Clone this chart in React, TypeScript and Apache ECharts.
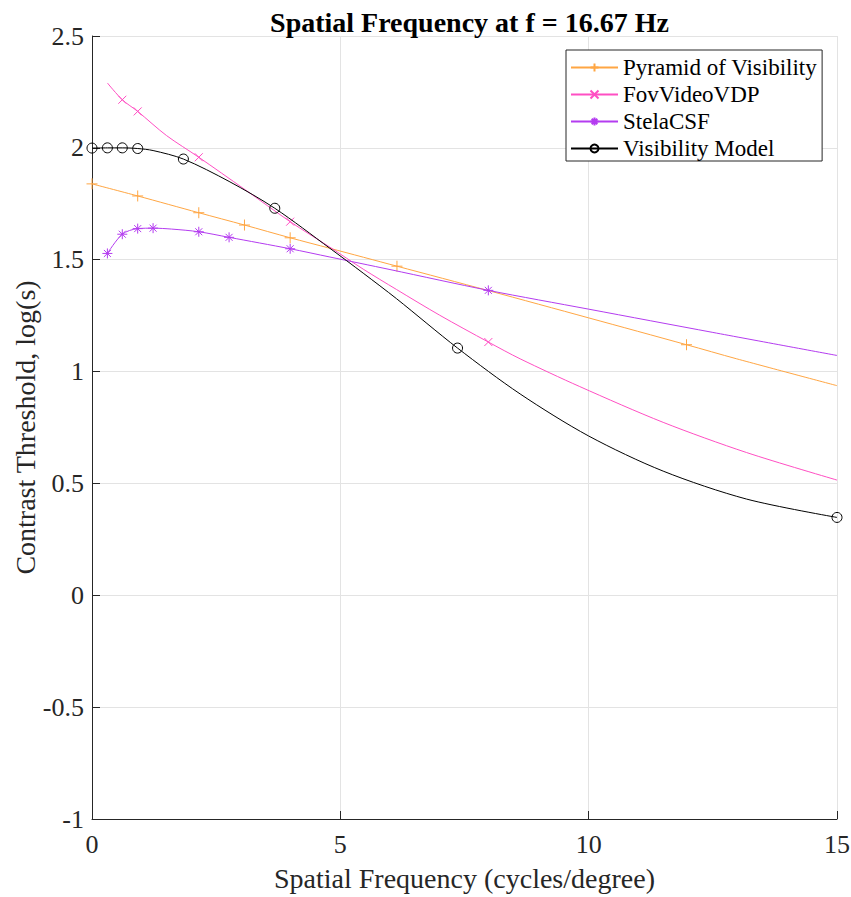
import React, { useEffect, useRef } from "react";
import * as echarts from "echarts";

const titleText = "Spatial Frequency at f = 16.67 Hz";
const xName = "Spatial Frequency (cycles/degree)";
const yName = "Contrast Threshold, log(s)";
const seriesNames = ["Pyramid of Visibility", "FovVideoVDP", "StelaCSF", "Visibility Model"];

const pyramidX = [0, 0.92, 2.15, 3.07, 3.99, 4.79, 6.14, 7.98, 10, 11.97, 12.98, 15];
const pyramidY = [1.839, 1.785, 1.71, 1.655, 1.598, 1.551, 1.471, 1.362, 1.24, 1.12, 1.057, 0.937];
const pyramidMarks = [0, 0.92, 2.15, 3.07, 3.99, 6.14, 11.97];

const fovX = [0.31, 0.61, 0.92, 1.5, 2.15, 3.07, 3.99, 4.79, 5.46, 6.13, 7.0, 7.98, 8.62, 9.82, 11.5, 13.18, 15];
const fovY = [2.29, 2.215, 2.163, 2.055, 1.958, 1.815, 1.67, 1.556, 1.458, 1.367, 1.252, 1.132, 1.057, 0.933, 0.773, 0.638, 0.515];
const fovMarks = [0.61, 0.92, 2.15, 3.99, 7.98];

const stelaX = [0.31, 0.61, 0.92, 1.23, 1.6, 2.15, 2.76, 3.99, 4.79, 6.0, 7.98, 10, 12.5, 15];
const stelaY = [1.528, 1.614, 1.639, 1.641, 1.637, 1.625, 1.6, 1.549, 1.512, 1.456, 1.363, 1.279, 1.175, 1.072];
const stelaMarks = [0.31, 0.61, 0.92, 1.23, 2.15, 2.76, 3.99, 7.98];

const visX = [0, 0.31, 0.61, 0.92, 1.23, 1.84, 2.76, 3.68, 4.79, 5.46, 6.13, 7.36, 8.62, 10, 11.5, 13.18, 15];
const visY = [1.999, 2.0, 2.0, 1.997, 1.988, 1.95, 1.85, 1.73, 1.551, 1.44, 1.326, 1.105, 0.9, 0.712, 0.555, 0.43, 0.348];
const visMarks = [0, 0.31, 0.61, 0.92, 1.84, 3.68, 7.36, 15];

const colors = ["#ffa643", "#ff4fc3", "#b43cf0", "#000000"];
const FONT = "Liberation Serif";

function build(xs: number[], ys: number[], marks: number[]) {
  return xs.map((x, i) =>
    marks.indexOf(x) >= 0 ? { value: [x, ys[i]] } : { value: [x, ys[i]], symbol: "none" }
  );
}

const PLUS = "path://M5 0 L5 10 M0 5 L10 5";
const CROSS = "path://M0 0 L10 10 M10 0 L0 10";
const STAR = "path://M5 0 L5 10 M0 5 L10 5 M1.5 1.5 L8.5 8.5 M8.5 1.5 L1.5 8.5";

export default function App() {
  const ref = useRef<HTMLDivElement>(null);
  useEffect(() => {
    if (!ref.current) return;
    const chart = echarts.init(ref.current, undefined, { renderer: "svg" });
    const mk = (i: number, data: any[], symbol: string, size: number, fill: string) => ({
      name: seriesNames[i],
      type: "line",
      data,
      smooth: 0.3,
      showSymbol: true,
      showAllSymbol: true,
      symbol,
      symbolSize: size,
      lineStyle: { color: colors[i], width: 1 },
      itemStyle: { color: fill, borderColor: colors[i], borderWidth: 1 },
      emphasis: { disabled: true },
      z: 2 + i,
    });
    chart.setOption({
      animation: false,
      backgroundColor: "#ffffff",
      title: {
        text: titleText,
        left: 464.5,
        textAlign: "center",
        top: 3,
        textStyle: { fontFamily: FONT, fontSize: 28, fontWeight: "bold", color: "#000" },
      },
      grid: {
        left: 92,
        right: 14,
        top: 36,
        bottom: 78,
        containLabel: false,
        outerBoundsMode: "none",
      },
      legend: {
        orient: "vertical",
        left: 566,
        top: 50,
        padding: [6, 5, 1, 4],
        itemGap: 4,
        itemWidth: 47,
        itemHeight: 10,
        backgroundColor: "#ffffff",
        borderColor: "#262626",
        borderWidth: 1,
        borderRadius: 0,
        data: seriesNames,
        textStyle: { fontFamily: FONT, fontSize: 23, color: "#000", lineHeight: 23 },
      },
      xAxis: {
        type: "value",
        min: 0,
        max: 15,
        interval: 5,
        name: xName,
        nameLocation: "middle",
        nameGap: 45,
        nameMoveOverlap: false,
        nameTextStyle: { fontFamily: FONT, fontSize: 28, color: "#262626" },
        axisLine: { show: true, onZero: false, lineStyle: { color: "#262626", width: 1 } },
        axisTick: { show: true, inside: true, length: 8, lineStyle: { color: "#262626" } },
        axisLabel: { fontFamily: FONT, fontSize: 26, color: "#262626", margin: 12 },
        splitLine: { show: true, lineStyle: { color: "#e3e3e3", width: 1 } },
      },
      yAxis: {
        type: "value",
        min: -1,
        max: 2.5,
        interval: 0.5,
        name: yName,
        nameLocation: "middle",
        nameGap: 53,
        nameMoveOverlap: false,
        nameTextStyle: { fontFamily: FONT, fontSize: 28, color: "#262626" },
        axisLine: { show: true, onZero: false, lineStyle: { color: "#262626", width: 1 } },
        axisTick: { show: true, inside: true, length: 8, lineStyle: { color: "#262626" } },
        axisLabel: { fontFamily: FONT, fontSize: 26, color: "#262626", margin: 8 },
        splitLine: { show: true, lineStyle: { color: "#e3e3e3", width: 1 } },
      },
      series: [
        mk(0, build(pyramidX, pyramidY, pyramidMarks), PLUS, 11, colors[0]),
        mk(1, build(fovX, fovY, fovMarks), CROSS, 8, colors[1]),
        mk(2, build(stelaX, stelaY, stelaMarks), STAR, 10, colors[2]),
        mk(3, build(visX, visY, visMarks), "circle", 10, "transparent"),
      ],
    });
    return () => chart.dispose();
  }, []);
  return (
    <div
      ref={ref}
      style={{ position: "absolute", left: 0, top: 0, width: 851, height: 897 }}
    />
  );
}
